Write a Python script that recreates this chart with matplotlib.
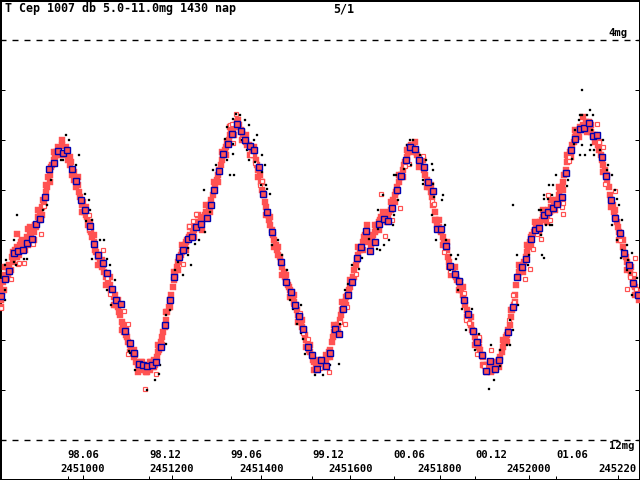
import matplotlib
matplotlib.use("Agg")
import matplotlib.pyplot as plt
import matplotlib.transforms as mtransforms
import numpy as np

# ---------------- data (JD, visual magnitude) ----------------
title_text = "T Cep 1007 db 5.0-11.0mg 1430 nap"
page_text = "5/1"

jd_ticks = [2451000, 2451200, 2451400, 2451600, 2451800, 2452000, 2452200]
jd_labels = ["2451000", "2451200", "2451400", "2451600", "2451800", "2452000", "245220"]
month_ticks = [2450966, 2451149, 2451331, 2451514, 2451697, 2451880, 2452062]
month_labels = ["98.06", "98.12", "99.06", "99.12", "00.06", "00.12", "01.06"]
mag_ticks = [4, 5, 6, 7, 8, 9, 10, 11, 12]

# individual observations (filled red squares)
red_obs = [
 (2450814, 8.95), (2450815, 9.35), (2450818, 9.05), (2450820, 8.85), (2450822, 9.0), (2450826, 8.7),
 (2450829, 8.55), (2450831, 8.75), (2450835, 8.5), (2450838, 8.6), (2450841, 8.35), (2450843, 8.45),
 (2450847, 8.2), (2450850, 8.35), (2450852, 8.15), (2450856, 8.3), (2450859, 8.1), (2450862, 8.2),
 (2450864, 8.0), (2450868, 8.15), (2450871, 8.05), (2450874, 7.95), (2450877, 8.1), (2450880, 7.9),
 (2450883, 7.95), (2450886, 7.8), (2450889, 7.85), (2450892, 7.7), (2450895, 7.75), (2450898, 7.55),
 (2450901, 7.6), (2450904, 7.45), (2450907, 7.35), (2450910, 7.2), (2450913, 7.25), (2450916, 7.05),
 (2450919, 6.95), (2450922, 6.75), (2450925, 6.7), (2450928, 6.55), (2450931, 6.5), (2450934, 6.4),
 (2450937, 6.35), (2450940, 6.25), (2450943, 6.15), (2450946, 6.2), (2450949, 6.3), (2450952, 6.1),
 (2450955, 6.2), (2450958, 6.3), (2450961, 6.15), (2450964, 6.25), (2450967, 6.4), (2450852, 7.89),
 (2450877, 7.79),
 (2450970, 6.5), (2450973, 6.45), (2450976, 6.7), (2450979, 6.65), (2450982, 6.8), (2450985, 6.95),
 (2450988, 6.9), (2450991, 7.05), (2450994, 7.15), (2450997, 7.3), (2451000, 7.25), (2451003, 7.45),
 (2451006, 7.5), (2451009, 7.55), (2451012, 7.7), (2451015, 7.65), (2451018, 7.85), (2451021, 7.95),
 (2451024, 8.05), (2451027, 8.2), (2451030, 8.25), (2451033, 8.35), (2451036, 8.3), (2451039, 8.45),
 (2451042, 8.55), (2451045, 8.5), (2451048, 8.65), (2451051, 8.75), (2451054, 8.7), (2451057, 8.85),
 (2451060, 8.9), (2451063, 9.0), (2451066, 9.05), (2451069, 9.15), (2451072, 9.1), (2451075, 9.3),
 (2451078, 9.35), (2451081, 9.45), (2451084, 9.5), (2451087, 9.65), (2451090, 9.7), (2451093, 9.85),
 (2451096, 9.9), (2451099, 9.95), (2451102, 10.05), (2451105, 10.1), (2451108, 10.2), (2451111, 10.25),
 (2451114, 10.35), (2451117, 10.3), (2451120, 10.45), (2451123, 10.5), (2451126, 10.55), (2451129, 10.45),
 (2451132, 10.6), (2451135, 10.55), (2451138, 10.6), (2451141, 10.5), (2451144, 10.65), (2451147, 10.55),
 (2451150, 10.6), (2451153, 10.45), (2451156, 10.55), (2451159, 10.4), (2451162, 10.5), (2451165, 10.35),
 (2451168, 10.25), (2451171, 10.2), (2451174, 10.05), (2451177, 9.95), (2451180, 9.85), (2451183, 9.75),
 (2451186, 9.6), (2451189, 9.45), (2451192, 9.35), (2451195, 9.2), (2451198, 9.1), (2451201, 8.95),
 (2451204, 8.8), (2451207, 8.7), (2451210, 8.55), (2451213, 8.45), (2451216, 8.4), (2451219, 8.3),
 (2451222, 8.25), (2451225, 8.2), (2451228, 8.1), (2451231, 8.05), (2451234, 8.0), (2451237, 7.95),
 (2451240, 7.9), (2451243, 7.95), (2451246, 7.85), (2451249, 7.8), (2451252, 7.75), (2451255, 7.7),
 (2451258, 7.65), (2451261, 7.7), (2451264, 7.6), (2451267, 7.65), (2451270, 7.55), (2451273, 7.5),
 (2451276, 7.45), (2451279, 7.5), (2451282, 7.35), (2451285, 7.3), (2451288, 7.2), (2451291, 7.1),
 (2451294, 7.0), (2451297, 6.9), (2451300, 6.8), (2451303, 6.7), (2451306, 6.6), (2451309, 6.5),
 (2451312, 6.4), (2451315, 6.3), (2451318, 6.2), (2451321, 6.15), (2451324, 6.05), (2451327, 6.0),
 (2451330, 5.9), (2451333, 5.85), (2451336, 5.8), (2451339, 5.75), (2451342, 5.7), (2451345, 5.65),
 (2451348, 5.75), (2451351, 5.7), (2451354, 5.8), (2451357, 5.85), (2451360, 5.9), (2451363, 5.95),
 (2451366, 6.05), (2451369, 6.1), (2451372, 6.1), (2451375, 6.15), (2451378, 6.2), (2451381, 6.25),
 (2451384, 6.3), (2451387, 6.4), (2451390, 6.5), (2451393, 6.6), (2451396, 6.7), (2451399, 6.85),
 (2451402, 7.0), (2451405, 7.1), (2451408, 7.25), (2451411, 7.35), (2451414, 7.5), (2451417, 7.6),
 (2451420, 7.7), (2451423, 7.8), (2451426, 7.9), (2451429, 8.0), (2451432, 8.1), (2451435, 8.2),
 (2451438, 8.3), (2451441, 8.35), (2451444, 8.45), (2451447, 8.55), (2451450, 8.65), (2451453, 8.75),
 (2451456, 8.85), (2451459, 8.9), (2451462, 8.95), (2451465, 9.0), (2451468, 9.05), (2451471, 9.15),
 (2451474, 9.25), (2451477, 9.3), (2451480, 9.4), (2451483, 9.5), (2451486, 9.55), (2451489, 9.65),
 (2451492, 9.75), (2451495, 9.8), (2451498, 9.9), (2451501, 10.0), (2451504, 10.1), (2451507, 10.2),
 (2451510, 10.25), (2451513, 10.3), (2451516, 10.4), (2451519, 10.45), (2451522, 10.5), (2451525, 10.6),
 (2451528, 10.55), (2451531, 10.45), (2451534, 10.5), (2451537, 10.4), (2451540, 10.55), (2451543, 10.5),
 (2451546, 10.45), (2451549, 10.35), (2451552, 10.25), (2451555, 10.2), (2451558, 10.05), (2451561, 9.95),
 (2451564, 9.85), (2451567, 9.75), (2451570, 9.8), (2451573, 9.7), (2451576, 9.6), (2451579, 9.5),
 (2451582, 9.4), (2451585, 9.3), (2451588, 9.25), (2451591, 9.15), (2451594, 9.1), (2451597, 9.0),
 (2451600, 8.95), (2451603, 8.85), (2451606, 8.75), (2451609, 8.6), (2451612, 8.5), (2451615, 8.4),
 (2451618, 8.3), (2451621, 8.2), (2451624, 8.15), (2451627, 8.05), (2451630, 7.95), (2451633, 7.9),
 (2451636, 7.85), (2451639, 7.95), (2451642, 8.05), (2451645, 7.95), (2451648, 8.0), (2451651, 7.9),
 (2451654, 7.85), (2451657, 7.8), (2451660, 7.7), (2451663, 7.65), (2451666, 7.6), (2451669, 7.55),
 (2451672, 7.6), (2451675, 7.55), (2451678, 7.6), (2451681, 7.5), (2451684, 7.55), (2451687, 7.45),
 (2451690, 7.4), (2451693, 7.3), (2451696, 7.2), (2451699, 7.1), (2451702, 7.05), (2451705, 6.95),
 (2451708, 6.85), (2451711, 6.75), (2451714, 6.7), (2451717, 6.6), (2451720, 6.5), (2451723, 6.45),
 (2451726, 6.35), (2451729, 6.25), (2451732, 6.15), (2451735, 6.1), (2451738, 6.15), (2451741, 6.1),
 (2451744, 6.2), (2451747, 6.25), (2451750, 6.3), (2451753, 6.4), (2451756, 6.45), (2451759, 6.5),
 (2451762, 6.55), (2451765, 6.6), (2451768, 6.7), (2451771, 6.8), (2451774, 6.9), (2451777, 6.95),
 (2451780, 7.05), (2451783, 7.15), (2451786, 7.3), (2451789, 7.45), (2451792, 7.6), (2451795, 7.7),
 (2451798, 7.75), (2451801, 7.8), (2451804, 7.85), (2451807, 7.95), (2451810, 8.05), (2451813, 8.1),
 (2451816, 8.2), (2451819, 8.35), (2451822, 8.45), (2451825, 8.55), (2451828, 8.6), (2451831, 8.65),
 (2451834, 8.7), (2451837, 8.75), (2451840, 8.8), (2451843, 8.85), (2451846, 8.9), (2451849, 9.0),
 (2451852, 9.1), (2451855, 9.2), (2451858, 9.3), (2451861, 9.4), (2451864, 9.5), (2451867, 9.6),
 (2451870, 9.7), (2451873, 9.8), (2451876, 9.85), (2451879, 9.95), (2451882, 10.0), (2451885, 10.1),
 (2451888, 10.15), (2451891, 10.2), (2451894, 10.3), (2451897, 10.35), (2451900, 10.5), (2451903, 10.6),
 (2451906, 10.65), (2451909, 10.55), (2451912, 10.45), (2451915, 10.5), (2451918, 10.6), (2451921, 10.55),
 (2451924, 10.6), (2451927, 10.5), (2451930, 10.45), (2451933, 10.4), (2451936, 10.35), (2451939, 10.25),
 (2451942, 10.15), (2451945, 10.05), (2451948, 9.95), (2451951, 9.9), (2451954, 9.8), (2451957, 9.7),
 (2451960, 9.55), (2451963, 9.4), (2451966, 9.3), (2451969, 9.1), (2451972, 8.9), (2451975, 8.75),
 (2451978, 8.65), (2451981, 8.6), (2451984, 8.55), (2451987, 8.5), (2451990, 8.45), (2451993, 8.35),
 (2451996, 8.25), (2451999, 8.15), (2452002, 8.05), (2452005, 7.95), (2452008, 7.9), (2452011, 7.85),
 (2452014, 7.8), (2452017, 7.75), (2452020, 7.8), (2452023, 7.7), (2452026, 7.65), (2452029, 7.6),
 (2452032, 7.55), (2452035, 7.5), (2452038, 7.45), (2452041, 7.5), (2452044, 7.4), (2452047, 7.45),
 (2452050, 7.35), (2452053, 7.4), (2452056, 7.3), (2452059, 7.25), (2452062, 7.2), (2452065, 7.2),
 (2452068, 7.1), (2452071, 7.0), (2452074, 6.95), (2452077, 6.85), (2452080, 6.7), (2452083, 6.6),
 (2452086, 6.45), (2452089, 6.35), (2452092, 6.25), (2452095, 6.2), (2452098, 6.1), (2452101, 6.05),
 (2452104, 5.95), (2452107, 5.9), (2452110, 5.85), (2452113, 5.8), (2452116, 5.75), (2452119, 5.8),
 (2452122, 5.7), (2452125, 5.75), (2452128, 5.65), (2452131, 5.7), (2452134, 5.65), (2452137, 5.75),
 (2452140, 5.85), (2452143, 5.9), (2452146, 5.95), (2452149, 5.9), (2452152, 6.0), (2452155, 6.1),
 (2452158, 6.2), (2452161, 6.3), (2452164, 6.4), (2452167, 6.5), (2452170, 6.6), (2452173, 6.7),
 (2452176, 6.85), (2452179, 6.95), (2452182, 7.1), (2452185, 7.2), (2452188, 7.3), (2452191, 7.45),
 (2452194, 7.55), (2452197, 7.65), (2452200, 7.75), (2452203, 7.85), (2452206, 7.9), (2452209, 8.0),
 (2452212, 8.15), (2452215, 8.3), (2452218, 8.35), (2452221, 8.45), (2452224, 8.5), (2452227, 8.6),
 (2452230, 8.7), (2452233, 8.8), (2452236, 8.9), (2452239, 8.95), (2452242, 9.05), (2452245, 9.1),
 (2452248, 9.2),
]

# more observations (filled red squares), second observer group
red_obs_b = [
 (2450817, 9.2), (2450826, 8.55), (2450835, 8.65), (2450844, 8.25), (2450853, 8.35), (2450862, 8.05),
 (2450871, 8.2), (2450880, 7.75), (2450889, 8.0), (2450898, 7.4), (2450907, 7.5), (2450916, 6.9),
 (2450925, 6.85), (2450934, 6.25), (2450943, 6.3), (2450952, 6.0), (2450961, 6.3), (2450970, 6.35),
 (2450979, 6.8), (2450988, 6.75), (2450997, 7.45), (2451006, 7.35), (2451015, 7.8), (2451024, 7.9),
 (2451033, 8.5), (2451042, 8.4), (2451051, 8.9), (2451060, 8.75), (2451069, 9.3), (2451078, 9.2),
 (2451087, 9.8), (2451096, 9.75), (2451105, 10.25), (2451114, 10.2), (2451123, 10.65), (2451132, 10.45),
 (2451141, 10.65), (2451150, 10.45), (2451159, 10.55), (2451168, 10.1), (2451177, 10.1), (2451186, 9.45),
 (2451195, 9.35), (2451204, 8.65), (2451213, 8.6), (2451222, 8.1), (2451231, 8.2), (2451240, 7.75),
 (2451249, 7.95), (2451258, 7.5), (2451267, 7.8), (2451276, 7.3), (2451285, 7.45), (2451294, 6.85),
 (2451303, 6.85), (2451312, 6.25), (2451321, 6.3), (2451330, 5.75), (2451339, 5.9), (2451348, 5.6),
 (2451357, 6.0), (2451366, 5.9), (2451375, 6.3), (2451384, 6.15), (2451393, 6.75), (2451402, 6.85),
 (2451411, 7.5), (2451420, 7.55), (2451429, 8.15), (2451438, 8.15), (2451447, 8.7), (2451456, 8.7),
 (2451465, 9.15), (2451474, 9.1), (2451483, 9.65), (2451492, 9.6), (2451501, 10.15), (2451510, 10.1),
 (2451519, 10.6), (2451528, 10.4), (2451537, 10.55), (2451546, 10.3), (2451555, 10.35), (2451564, 9.7),
 (2451573, 9.85), (2451582, 9.25), (2451591, 9.3), (2451600, 8.8), (2451609, 8.75), (2451618, 8.15),
 (2451627, 8.2), (2451636, 7.7), (2451645, 8.1), (2451654, 7.7), (2451663, 7.8), (2451672, 7.45),
 (2451681, 7.65), (2451690, 7.25), (2451699, 7.25), (2451708, 6.7), (2451717, 6.75), (2451726, 6.2),
 (2451735, 6.25), (2451744, 6.05), (2451753, 6.55), (2451762, 6.4), (2451771, 6.95), (2451780, 6.9),
 (2451789, 7.6), (2451798, 7.6), (2451807, 8.1), (2451816, 8.05), (2451825, 8.7), (2451834, 8.55),
 (2451843, 9.0), (2451852, 8.95), (2451861, 9.55), (2451870, 9.55), (2451879, 10.1), (2451888, 10.0),
 (2451897, 10.5), (2451906, 10.5), (2451915, 10.65), (2451924, 10.45), (2451933, 10.55), (2451942, 10.0),
 (2451951, 10.05), (2451960, 9.4), (2451969, 9.25), (2451978, 8.5), (2451987, 8.65), (2451996, 8.1),
 (2452005, 8.1), (2452014, 7.65), (2452023, 7.85), (2452032, 7.4), (2452041, 7.65), (2452050, 7.2),
 (2452059, 7.4), (2452068, 6.95), (2452077, 7.0), (2452086, 6.3), (2452095, 6.35), (2452104, 5.8),
 (2452113, 5.95), (2452122, 5.55), (2452131, 5.85), (2452140, 5.7), (2452149, 6.05), (2452158, 6.05),
 (2452167, 6.65), (2452176, 6.7), (2452185, 7.35), (2452194, 7.4), (2452203, 8.0), (2452212, 8.0),
 (2452221, 8.6), (2452230, 8.55), (2452239, 9.1), (2452248, 9.05),
]

# observations shown as small hollow red squares
hollow_obs = [
 (2450816, 9.37), (2450839, 8.79), (2450854, 8.49), (2450857, 8.47), (2450868, 8.47), (2450888, 8.09),
 (2450906, 7.89), (2450913, 7.33), (2450953, 6.21), (2451014, 7.51), (2451014, 7.79), (2451045, 8.21),
 (2451054, 8.77), (2451061, 9.09), (2451092, 9.43), (2451101, 9.69), (2451101, 10.29), (2451139, 10.99),
 (2451164, 10.69), (2451225, 8.49), (2451238, 7.73), (2451247, 7.63), (2451254, 7.49), (2451330, 5.71),
 (2451334, 5.69), (2451337, 6.07), (2451343, 5.49), (2451357, 5.99), (2451377, 6.31), (2451386, 6.47),
 (2451397, 6.91), (2451402, 6.83), (2451404, 7.05), (2451471, 9.29), (2451487, 9.47), (2451494, 9.87),
 (2451505, 9.99), (2451532, 10.57), (2451552, 10.65), (2451577, 9.65), (2451588, 9.69), (2451590, 9.11),
 (2451592, 9.35), (2451613, 8.69), (2451669, 7.09), (2451678, 7.93), (2451693, 7.61), (2451711, 7.37),
 (2451722, 6.53), (2451731, 6.49), (2451763, 6.33), (2451783, 7.23), (2451788, 7.29), (2451810, 8.25),
 (2451819, 8.55), (2451823, 8.63), (2451846, 8.85), (2451855, 9.07), (2451859, 9.61), (2451866, 9.67),
 (2451884, 10.29), (2451888, 9.95), (2451900, 10.53), (2451902, 10.63), (2451915, 10.21), (2451956, 9.61),
 (2451965, 9.11), (2451967, 9.25), (2451992, 8.79), (2452003, 8.59), (2452010, 8.19), (2452019, 7.89),
 (2452028, 7.99), (2452043, 7.11), (2452048, 7.61), (2452075, 7.35), (2452077, 7.27), (2452077, 7.49),
 (2452090, 6.35), (2452090, 6.43), (2452153, 5.69), (2452158, 6.05), (2452167, 6.15), (2452171, 6.89),
 (2452173, 6.77), (2452194, 7.03), (2452203, 7.85), (2452205, 8.01), (2452221, 8.99), (2452227, 8.75),
 (2452236, 8.69), (2452238, 8.37), (2452241, 8.99),
]

# observations shown as small black dots
black_obs = [
 (2450825, 8.51), (2450825, 9.01), (2450825, 9.21), (2450827, 8.41), (2450845, 8.01), (2450845, 8.45),
 (2450850, 8.51), (2450852, 7.51), (2450868, 8.39), (2450875, 8.39), (2450910, 7.41), (2450919, 7.31),
 (2450928, 6.81), (2450951, 6.41), (2450955, 6.41), (2450962, 5.91), (2450969, 6.01), (2450985, 6.51),
 (2450991, 6.31), (2451005, 7.09), (2451007, 7.63), (2451014, 7.21), (2451016, 7.41), (2451020, 7.61),
 (2451020, 8.39), (2451038, 8.01), (2451047, 8.01), (2451054, 8.39), (2451054, 9.01), (2451061, 8.51),
 (2451063, 9.31), (2451072, 8.81), (2451103, 10.23), (2451106, 10.27), (2451117, 10.61), (2451144, 11.01),
 (2451162, 10.81), (2451171, 10.69), (2451173, 10.51), (2451186, 10.09), (2451186, 9.51), (2451195, 9.41),
 (2451207, 8.61), (2451213, 8.45), (2451225, 8.71), (2451236, 8.17), (2451236, 8.31), (2451242, 8.51),
 (2451251, 8.09), (2451260, 8.01), (2451272, 7.01), (2451274, 7.85), (2451285, 7.45), (2451292, 6.61),
 (2451299, 6.51), (2451319, 5.99), (2451323, 5.75), (2451323, 6.41), (2451330, 6.71), (2451337, 5.59),
 (2451337, 6.09), (2451337, 6.29), (2451339, 6.71), (2451343, 5.49), (2451352, 5.51), (2451357, 6.01),
 (2451364, 5.61), (2451368, 6.21), (2451373, 5.71), (2451373, 6.41), (2451379, 6.21), (2451384, 6.01),
 (2451386, 6.45), (2451390, 5.91), (2451399, 6.91), (2451402, 6.31), (2451402, 6.65), (2451408, 6.51),
 (2451411, 6.91), (2451413, 6.99), (2451420, 7.09), (2451424, 8.11), (2451438, 8.01), (2451447, 8.31),
 (2451458, 8.61), (2451465, 9.21), (2451471, 9.39), (2451480, 9.69), (2451489, 9.31), (2451489, 9.87),
 (2451494, 9.99), (2451498, 10.29), (2451521, 10.65), (2451521, 10.71), (2451539, 10.71), (2451554, 10.51),
 (2451574, 10.49), (2451577, 9.69), (2451583, 9.39), (2451588, 9.01), (2451595, 8.89), (2451604, 8.51),
 (2451619, 8.59), (2451626, 8.37), (2451628, 8.17), (2451642, 7.99), (2451660, 8.19), (2451662, 7.41),
 (2451662, 7.79), (2451666, 8.21), (2451673, 7.11), (2451675, 8.11), (2451687, 8.01), (2451696, 7.71),
 (2451698, 6.71), (2451698, 7.51), (2451702, 6.71), (2451707, 7.21), (2451720, 6.59), (2451727, 6.11),
 (2451734, 6.01), (2451736, 6.51), (2451740, 6.01), (2451756, 6.31), (2451763, 6.81), (2451763, 6.89),
 (2451770, 6.41), (2451783, 6.49), (2451783, 7.51), (2451785, 6.61), (2451785, 6.89), (2451788, 7.15),
 (2451792, 8.01), (2451805, 7.21), (2451808, 7.11), (2451812, 7.71), (2451814, 8.01), (2451823, 8.61),
 (2451826, 8.31), (2451837, 8.39), (2451841, 8.31), (2451841, 9.01), (2451850, 8.81), (2451850, 9.39),
 (2451859, 9.81), (2451873, 9.39), (2451880, 10.21), (2451888, 9.89), (2451909, 10.61), (2451911, 10.99),
 (2451915, 10.11), (2451922, 10.81), (2451936, 10.21), (2451936, 10.53), (2451951, 10.11), (2451958, 10.11),
 (2451958, 9.61), (2451965, 9.81), (2451965, 7.31), (2451974, 8.31), (2451976, 9.31), (2451998, 8.51),
 (2452001, 8.31), (2452023, 7.41), (2452028, 7.41), (2452028, 7.91), (2452030, 8.31), (2452034, 7.11),
 (2452034, 7.19), (2452034, 8.37), (2452039, 7.71), (2452043, 7.19), (2452045, 6.91), (2452048, 7.71),
 (2452052, 7.11), (2452052, 7.71), (2452055, 6.91), (2452061, 6.71), (2452086, 6.93), (2452088, 6.81),
 (2452097, 6.39), (2452102, 6.09), (2452104, 5.81), (2452113, 5.61), (2452115, 5.51), (2452115, 6.31),
 (2452120, 5.01), (2452120, 5.51), (2452120, 6.11), (2452126, 6.31), (2452131, 5.51), (2452138, 5.41),
 (2452138, 6.21), (2452140, 6.11), (2452142, 5.81), (2452144, 5.51), (2452146, 5.91), (2452146, 6.21),
 (2452146, 6.31), (2452160, 6.21), (2452160, 6.31), (2452167, 6.01), (2452176, 6.61), (2452178, 6.51),
 (2452187, 6.71), (2452187, 7.71), (2452194, 7.01), (2452198, 7.19), (2452198, 8.01), (2452203, 7.31),
 (2452207, 8.37), (2452209, 7.61), (2452209, 8.21), (2452221, 8.11), (2452221, 8.61), (2452223, 8.41),
 (2452227, 8.67), (2452232, 8.27), (2452232, 9.11), (2452243, 8.77),
]

# 10-day means (blue-framed squares)
mean_obs = [
 (2450816, 9.13), (2450825, 8.79), (2450834, 8.63), (2450845, 8.27), (2450854, 8.23), (2450866, 8.21),
 (2450875, 8.07), (2450886, 7.99), (2450895, 7.69), (2450904, 7.59), (2450915, 7.15), (2450924, 6.59),
 (2450935, 6.47), (2450944, 6.23), (2450955, 6.27), (2450964, 6.21), (2450976, 6.59), (2450985, 6.83),
 (2450996, 7.21), (2451005, 7.41), (2451016, 7.73), (2451025, 8.09), (2451034, 8.31), (2451045, 8.47),
 (2451054, 8.67), (2451065, 8.99), (2451074, 9.21), (2451085, 9.29), (2451094, 9.83), (2451106, 10.07),
 (2451115, 10.27), (2451126, 10.49), (2451135, 10.51), (2451144, 10.53), (2451155, 10.51), (2451164, 10.45),
 (2451175, 10.15), (2451184, 9.71), (2451195, 9.21), (2451204, 8.75), (2451216, 8.35), (2451225, 8.21),
 (2451236, 7.99), (2451245, 7.95), (2451254, 7.75), (2451265, 7.69), (2451278, 7.57), (2451287, 7.31),
 (2451294, 7.01), (2451305, 6.63), (2451314, 6.29), (2451325, 6.09), (2451334, 5.89), (2451346, 5.69),
 (2451355, 5.83), (2451364, 6.01), (2451375, 6.13), (2451384, 6.21), (2451395, 6.55), (2451404, 7.09),
 (2451413, 7.45), (2451424, 7.85), (2451444, 8.45), (2451456, 8.85), (2451467, 9.05), (2451476, 9.31),
 (2451485, 9.53), (2451494, 9.79), (2451505, 10.15), (2451514, 10.31), (2451525, 10.59), (2451534, 10.41),
 (2451545, 10.53), (2451554, 10.27), (2451565, 9.79), (2451574, 9.89), (2451583, 9.39), (2451595, 9.11),
 (2451604, 8.85), (2451615, 8.37), (2451624, 8.15), (2451635, 7.83), (2451644, 8.23), (2451655, 8.05),
 (2451664, 7.69), (2451675, 7.59), (2451684, 7.63), (2451693, 7.37), (2451705, 7.01), (2451714, 6.73),
 (2451725, 6.41), (2451734, 6.15), (2451745, 6.19), (2451754, 6.41), (2451765, 6.55), (2451774, 6.85),
 (2451785, 7.03), (2451794, 7.79), (2451803, 7.79), (2451814, 8.13), (2451823, 8.53), (2451835, 8.69),
 (2451844, 8.83), (2451855, 9.21), (2451864, 9.49), (2451875, 9.83), (2451884, 10.05), (2451895, 10.31),
 (2451904, 10.63), (2451913, 10.43), (2451924, 10.59), (2451933, 10.41), (2451954, 9.85), (2451965, 9.35),
 (2451974, 8.75), (2451985, 8.55), (2451994, 8.39), (2452005, 7.99), (2452014, 7.81), (2452023, 7.77),
 (2452034, 7.51), (2452043, 7.45), (2452054, 7.37), (2452063, 7.29), (2452075, 7.15), (2452084, 6.67),
 (2452095, 6.21), (2452104, 5.99), (2452115, 5.79), (2452124, 5.77), (2452135, 5.67), (2452144, 5.93),
 (2452153, 5.91), (2452164, 6.35), (2452173, 6.73), (2452185, 7.21), (2452194, 7.57), (2452205, 7.87),
 (2452214, 8.27), (2452225, 8.51), (2452234, 8.87), (2452245, 9.11),
]

# ---------------- drawing ----------------
W, H = 640, 480
DPI = 100
PX = 72.0 / DPI  # points per pixel
RED = "#FF5252"
BLUE = "#0000B0"
FONT = dict(family="DejaVu Sans Mono", weight="bold", size=8.4)
FONT_AX = dict(family="DejaVu Sans Mono", weight="bold", size=7.6)

plt.rcParams["lines.scale_dashes"] = False
fig = plt.figure(figsize=(W / DPI, H / DPI), dpi=DPI, facecolor="white")
ax = fig.add_axes([0, 0, 1, 1])
ax.set_facecolor("white")

ax.set_xlim(2450813.8, 2452249.5)
ax.set_ylim(12.81, 3.21)

def xy(series):
    a = np.array(series, dtype=float)
    return a[:, 0], a[:, 1]

for series in (red_obs, red_obs_b):
    x, y = xy(series)
    ax.plot(x, y, ls="none", marker="s", ms=5.2 * PX, mfc=RED, mec=RED, mew=0.3, zorder=3)

x, y = xy(hollow_obs)
ax.plot(x, y, ls="none", marker="s", ms=3.4 * PX, mfc="white", mec=RED, mew=1.2 * PX, zorder=4)

x, y = xy(black_obs)
ax.plot(x, y, ls="none", marker="s", ms=2.2 * PX, mfc="black", mec="black", mew=0.2, zorder=5)

x, y = xy(mean_obs)
ax.plot(x, y, ls="none", marker="s", ms=5.6 * PX, mfc=RED, mec=BLUE, mew=1.4 * PX, zorder=6)

# dashed limit lines at 4 and 12 mag
for m in (4, 12):
    ax.axhline(m, color="black", lw=1.0, dashes=(6 * PX, 6 * PX), zorder=2)

# ticks
ax.set_yticks(mag_ticks)
ax.tick_params(axis="y", which="major", direction="in", length=5 * PX, width=1.0 * PX,
               left=True, right=True, labelleft=False, labelright=False, color="black")
ax.set_xticks(jd_ticks)
ax.set_xticks(month_ticks, minor=True)
ax.tick_params(axis="x", which="major", direction="in", length=5 * PX, width=1.0 * PX,
               bottom=True, top=False, labelbottom=False)
ax.tick_params(axis="x", which="minor", direction="in", length=4 * PX, width=1.0 * PX,
               bottom=True, top=False, labelbottom=False)
for s in ax.spines.values():
    s.set_linewidth(3.0 * PX)
    s.set_color("black")

# texts
tr = mtransforms.blended_transform_factory(ax.transData, ax.transAxes)
def fy(py):
    return 1.0 - py / H

for t, lab in zip(month_ticks, month_labels):
    ax.text(t, fy(455.5), lab, transform=tr, ha="left", va="center", **FONT_AX)
for t, lab in zip(jd_ticks, jd_labels):
    ax.text(t, fy(468.5), lab, transform=tr, ha="center", va="center", **FONT_AX)

ax.text(5 / W, fy(8.5), title_text, transform=ax.transAxes, ha="left", va="center", **FONT)
ax.text(333 / W, fy(8.5), page_text, transform=ax.transAxes, ha="left", va="center", **FONT)
ax.text(628 / W, fy(33), "4mg", transform=ax.transAxes, ha="right", va="center", **FONT_AX)
ax.text(635 / W, fy(446), "12mg", transform=ax.transAxes, ha="right", va="center", **FONT_AX)

fig.savefig("out.png", dpi=DPI, facecolor="white")
